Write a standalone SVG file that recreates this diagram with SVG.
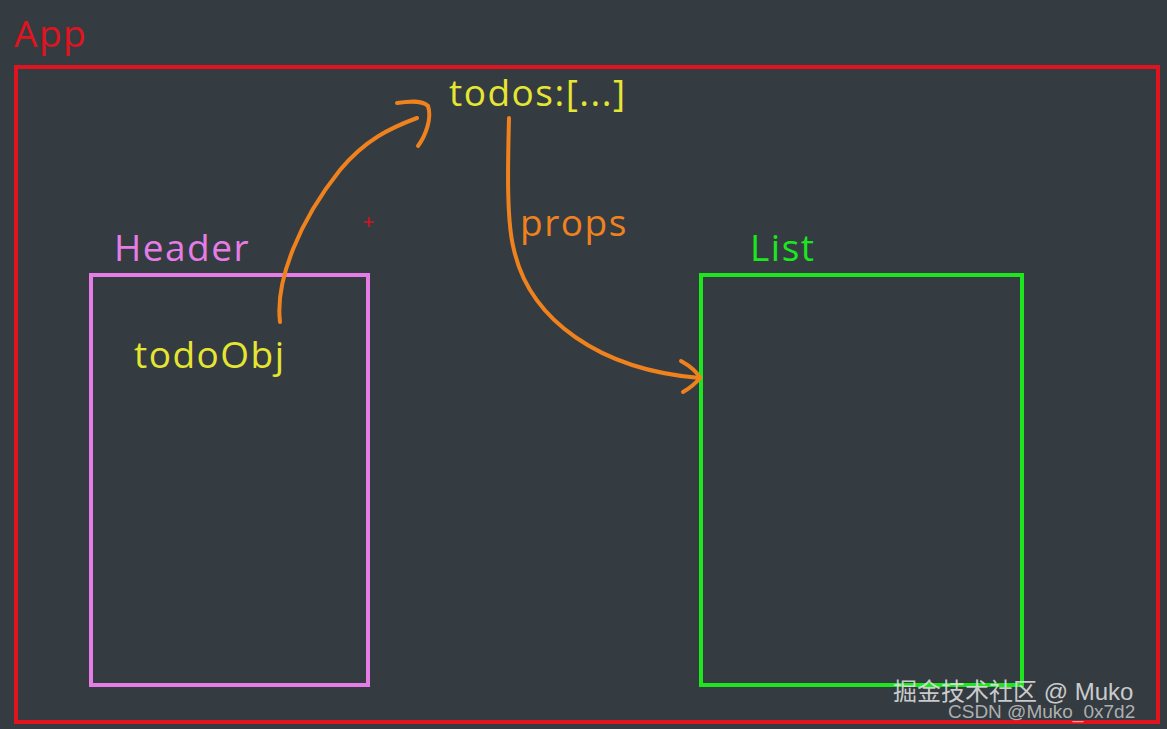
<svg xmlns="http://www.w3.org/2000/svg" width="1167" height="729" viewBox="0 0 1167 729">
<style>
.lbl{font-family:"Open Sans","Liberation Sans",sans-serif;font-size:37px;letter-spacing:1.5px}
.arr{fill:none;stroke:#f0821e;stroke-width:4;stroke-linecap:round;stroke-linejoin:round}
</style>
<rect width="1167" height="729" fill="#343b41"/>
<g id="app">
<rect x="16" y="67" width="1142" height="655" fill="none" stroke="#e0141e" stroke-width="4"/>
<text x="14" y="47" class="lbl" fill="#e0141e" font-size="40">App</text>
</g>
<g id="todos"><text x="449" y="106" class="lbl" fill="#e6e632">todos:[...]</text></g>
<g id="header">
<rect x="91" y="275" width="277" height="410" fill="none" stroke="#e67de6" stroke-width="4"/>
<text x="114" y="261" class="lbl" fill="#e67de6">Header</text>
<text x="134" y="368" class="lbl" fill="#e6e632">todoObj</text>
</g>
<g id="list">
<rect x="701" y="275" width="321" height="410" fill="none" stroke="#1ee61e" stroke-width="4"/>
<text x="750" y="261" class="lbl" fill="#1ee61e">List</text>
</g>
<g id="connectors">
<path class="arr" d="M280,322 C275,280 300,220 340,170 C365,140 390,128 417,118"/>
<path class="arr" d="M397,103 C410,101 422,100 428,106 C432,118 426,135 418,146"/>
<path class="arr" d="M509,118 C508,160 506,220 514,250 C530,320 600,370 700,378"/>
<path class="arr" d="M681,361 C690,366 697,372 700,378 C695,384 690,388 683,392"/>
<text x="520" y="236" class="lbl" fill="#f0821e">props</text>
</g>
<path d="M369,217v10M364,222h10" stroke="#e0141e" stroke-width="1.5"/>
<text x="893" y="700" font-family="'Liberation Sans','Noto Sans CJK SC',sans-serif" font-size="24" fill="#e6e6e6" fill-opacity="0.85">掘金技术社区 @ Muko</text>
<text x="948" y="718" font-family="'Liberation Sans',sans-serif" font-size="19" fill="#cfcfcf" fill-opacity="0.8">CSDN @Muko_0x7d2</text>
</svg>
